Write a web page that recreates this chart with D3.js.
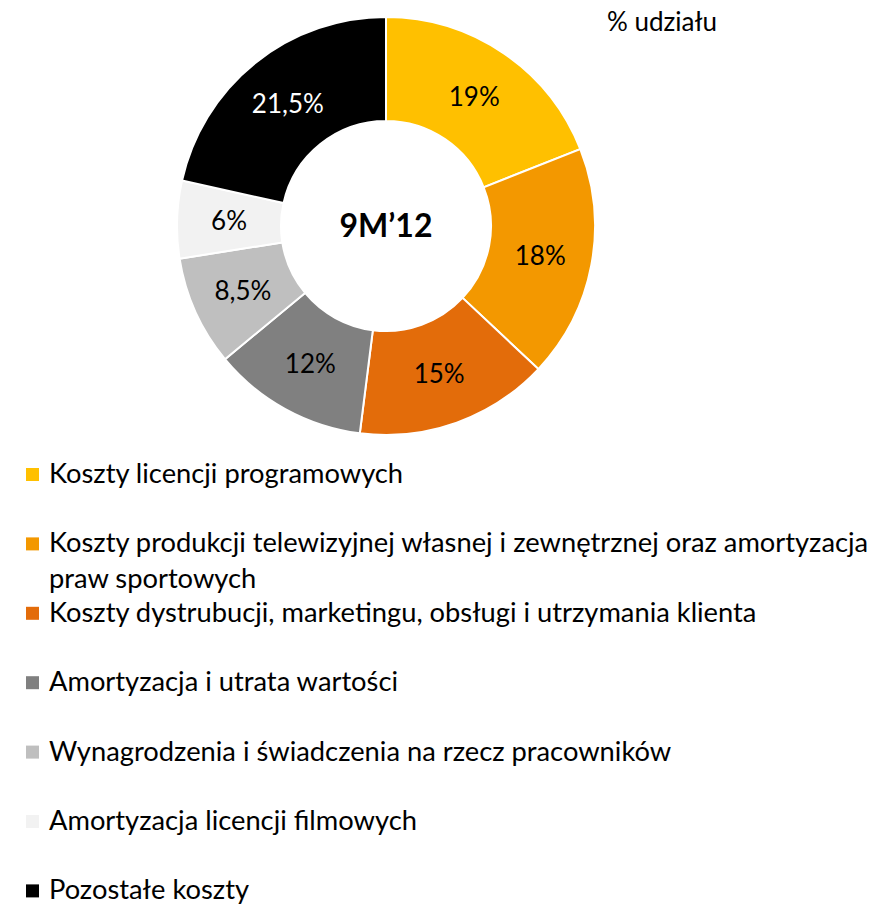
<!DOCTYPE html>
<html>
<head>
<meta charset="utf-8">
<script src="https://cdn.jsdelivr.net/npm/d3@7"></script>
<style>
  body { margin: 0; background: #fff; }
  svg { display: block; font-family: Lato, "Open Sans", sans-serif; }
</style>
</head>
<body>
<div id="chart"></div>
<script>
// data (share of costs, %)
var categories = [
    "Koszty licencji programowych",
    "Koszty produkcji telewizyjnej własnej i zewnętrznej oraz amortyzacja praw sportowych",
    "Koszty dystrubucji, marketingu, obsługi i utrzymania klienta",
    "Amortyzacja i utrata wartości",
    "Wynagrodzenia i świadczenia na rzecz pracowników",
    "Amortyzacja licencji filmowych",
    "Pozostałe koszty"
];
var shares = [19, 18, 15, 12, 8.5, 6, 21.5];
var colors = ["#FFC000", "#F39800", "#E36C0A", "#808080", "#BFBFBF", "#F2F2F2", "#000000"];
var labelColors = ["#000", "#000", "#000", "#000", "#000", "#000", "#fff"];
var centerTitle = "9M\u201912";
var unitLabel = "% udziału";

var width = 888, height = 906;
var cx = 386, cy = 226, outerR = 209, innerR = 105;

var svg = d3.select("#chart").append("svg")
    .attr("width", width)
    .attr("height", height);

var data = categories.map(function(c, i){
    return { name: c, value: shares[i], color: colors[i], labelColor: labelColors[i] };
});

var pie = d3.pie().sort(null).value(function(d){ return d.value; });
var arc = d3.arc().innerRadius(innerR).outerRadius(outerR);

var g = svg.append("g").attr("transform", "translate(" + cx + "," + cy + ")");

g.selectAll("path")
    .data(pie(data))
    .enter()
    .append("path")
    .attr("d", arc)
    .attr("fill", function(d){ return d.data.color; })
    .attr("stroke", "#fff")
    .attr("stroke-width", 2);

var fmt = function(v){ return String(v).replace(".", ",") + "%"; };

g.selectAll("text.val")
    .data(pie(data))
    .enter()
    .append("text")
    .attr("class", "val")
    .attr("transform", function(d){ return "translate(" + arc.centroid(d) + ")"; })
    .attr("text-anchor", "middle")
    .attr("dy", "0.36em")
    .style("font-size", "26px")
    .attr("fill", function(d){ return d.data.labelColor; })
    .text(function(d){ return fmt(d.data.value); });

g.append("text")
    .attr("text-anchor", "middle")
    .attr("y", 11)
    .style("font-size", "32px")
    .style("font-weight", "bold")
    .text(centerTitle);

svg.append("text")
    .attr("x", 607)
    .attr("y", 31)
    .style("font-size", "26px")
    .text(unitLabel);

// legend
var legendX = 26, legendY = 483, legendStep = 69.4, lineH = 35.5, maxW = 830;
var legend = svg.append("g");

data.forEach(function(d, i){
    var y = legendY + i * legendStep;
    legend.append("rect")
        .attr("x", legendX)
        .attr("y", y - 15)
        .attr("width", 13)
        .attr("height", 13)
        .attr("fill", d.color);

    var txt = legend.append("text")
        .attr("x", legendX + 23)
        .attr("y", y)
        .style("font-size", "27.3px");

    // simple word wrap
    var words = d.name.split(" "), line = [], lineNo = 0;
    var tspan = txt.append("tspan").attr("x", legendX + 23).attr("y", y);
    words.forEach(function(w){
        line.push(w);
        tspan.text(line.join(" "));
        if (tspan.node().getComputedTextLength() > maxW && line.length > 1) {
            line.pop();
            tspan.text(line.join(" "));
            line = [w];
            lineNo++;
            tspan = txt.append("tspan")
                .attr("x", legendX + 23)
                .attr("y", y + lineNo * lineH)
                .text(w);
        }
    });
});
</script>
</body>
</html>
